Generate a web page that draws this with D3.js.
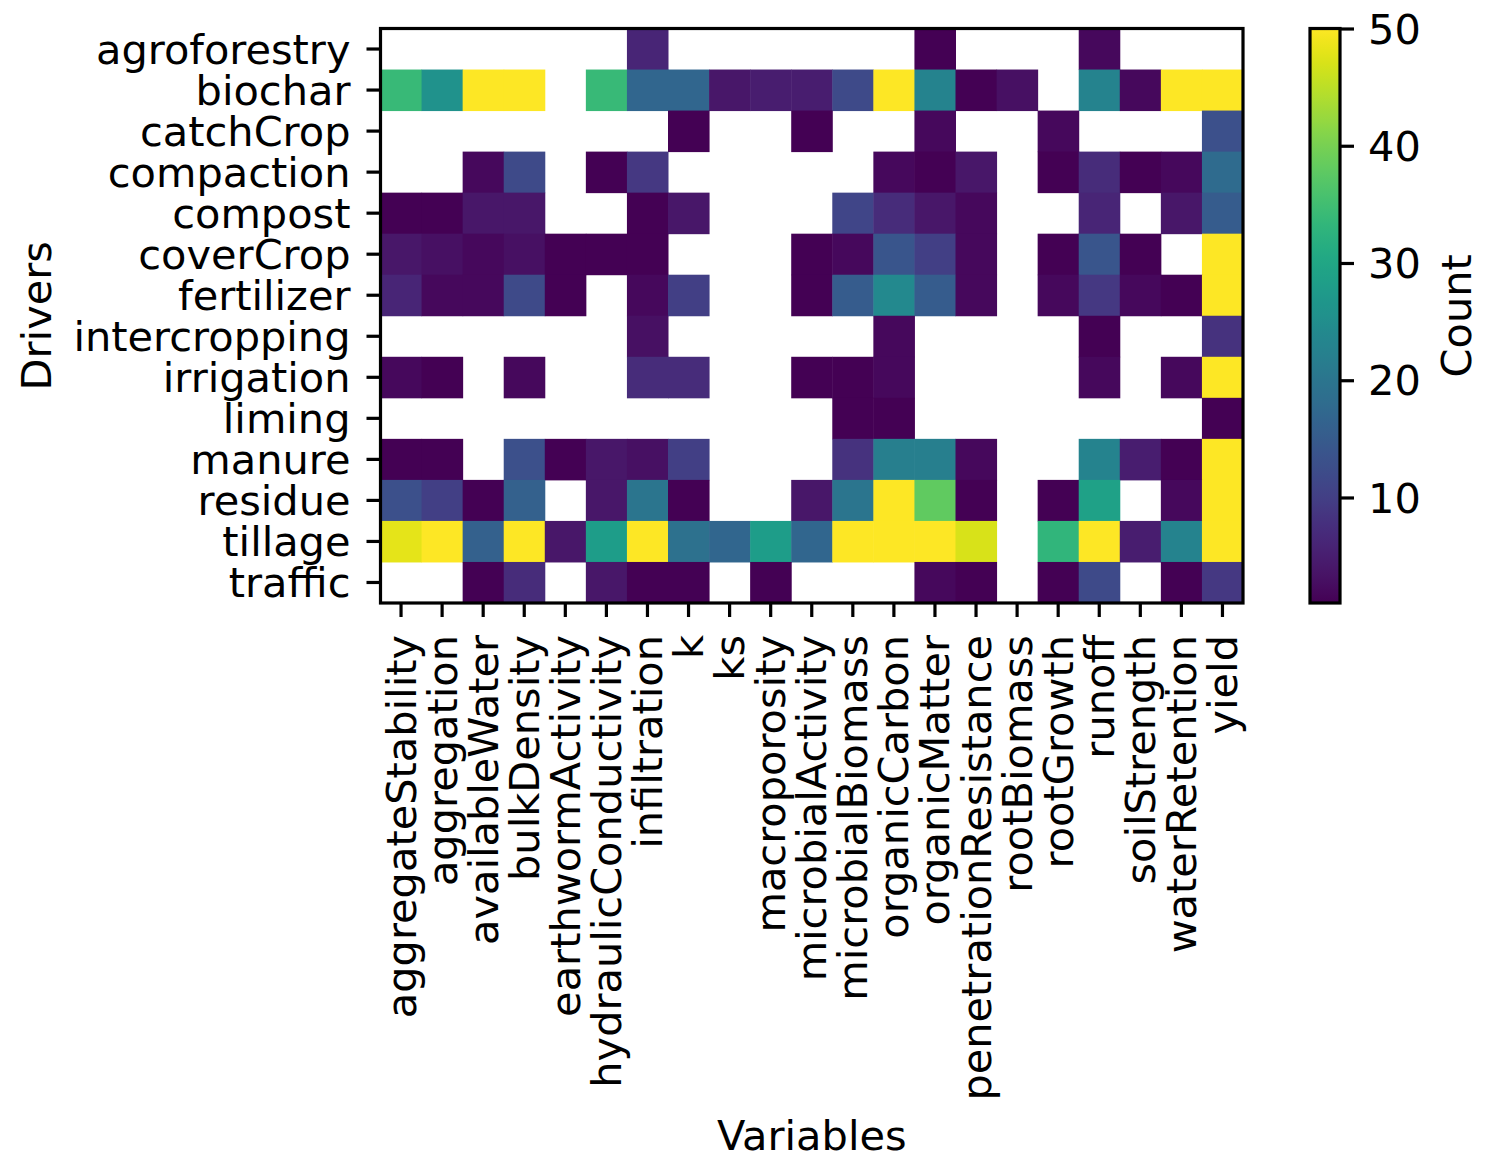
<!DOCTYPE html>
<html>
<head>
<meta charset="utf-8">
<script src="https://cdn.jsdelivr.net/npm/d3@7"></script>
<style>
  html, body { margin: 0; padding: 0; background: #fff; }
  svg { display: block; }
  text { font-family: "DejaVu Sans", sans-serif; fill: #000; }
</style>
</head>
<body>
<svg id="chart" width="1491" height="1162"></svg>
<script>
const drivers = ["agroforestry","biochar","catchCrop","compaction","compost","coverCrop","fertilizer","intercropping","irrigation","liming","manure","residue","tillage","traffic"];
const variables = ["aggregateStability","aggregation","availableWater","bulkDensity","earthwormActivity","hydraulicConductivity","infiltration","k","ks","macroporosity","microbialActivity","microbialBiomass","organicCarbon","organicMatter","penetrationResistance","rootBiomass","rootGrowth","runoff","soilStrength","waterRetention","yield"];
const N = null;
// counts per driver (row), in the order of `variables`; null = no data
const agroforestry  = [N,N,N,N,N,N,6,N,N,N,N,N,N,1,N,N,N,2,N,N,N];
const biochar       = [34,26,50,50,N,34,17,17,4,5,5,12,50,23,1,3,N,23,2,50,50];
const catchCrop     = [N,N,N,N,N,N,N,1,N,N,1,N,N,2,N,N,2,N,N,N,13];
const compaction    = [N,N,2,12,N,1,9,N,N,N,N,N,2,1,4,N,1,7,1,2,18];
const compost       = [1,1,4,4,N,N,1,4,N,N,N,11,7,4,2,N,N,6,N,4,15];
const coverCrop     = [4,3,2,3,1,1,1,N,N,N,1,2,14,10,2,N,1,14,1,N,50];
const fertilizer    = [6,2,2,12,1,N,2,10,N,N,1,15,24,15,2,N,2,9,2,1,50];
const intercropping = [N,N,N,N,N,N,3,N,N,N,N,N,2,N,N,N,N,1,N,N,8];
const irrigation    = [2,1,N,2,N,N,7,7,N,N,1,1,2,N,N,N,N,2,N,2,50];
const liming        = [N,N,N,N,N,N,N,N,N,N,N,1,1,N,N,N,N,N,N,N,1];
const manure        = [1,1,N,13,1,4,3,10,N,N,N,8,22,22,2,N,N,23,5,1,50];
const residue       = [13,10,1,16,N,4,20,1,N,N,4,20,50,38,1,N,1,29,N,2,50];
const tillage       = [48,50,16,50,4,28,50,19,17,28,17,50,50,50,47,N,33,50,5,23,50];
const traffic       = [N,N,1,7,N,4,1,1,N,1,N,N,N,2,1,N,1,12,N,1,9];
const counts = [agroforestry,biochar,catchCrop,compaction,compost,coverCrop,fertilizer,intercropping,irrigation,liming,manure,residue,tillage,traffic];
const colorTicks = [10,20,30,40,50];
const vMin = 1, vMax = 50;

const svg = d3.select("#chart");
svg.append("rect").attr("width",1491).attr("height",1162).attr("fill","#fff");

const L = 380.5, R = 1243, T = 28.5, B = 603;
const FS = 41.5;
const x = d3.scaleBand().domain(variables).range([L, R]).padding(0);
const y = d3.scaleBand().domain(drivers).range([T, B]).padding(0);
const color = d3.scaleSequential(d3.interpolateViridis).domain([vMin, vMax]).clamp(true);

const cells = [];
counts.forEach((row, i) => row.forEach((v, j) => { if (v !== null) cells.push({d: drivers[i], v: variables[j], c: v}); }));

svg.append("g").selectAll("rect").data(cells).join("rect")
  .attr("x", d => x(d.v)).attr("y", d => y(d.d))
  .attr("width", x.bandwidth() + 0.5).attr("height", y.bandwidth() + 0.5)
  .attr("fill", d => color(d.c));

// frame
svg.append("rect").attr("x", L).attr("y", T).attr("width", R - L).attr("height", B - T)
  .attr("fill", "none").attr("stroke", "#000").attr("stroke-width", 3.2);

// x axis
const xAxis = svg.append("g").attr("transform", `translate(0,${B})`)
  .call(d3.axisBottom(x).tickSize(14).tickSizeOuter(0).tickPadding(0));
xAxis.select(".domain").remove();
xAxis.selectAll(".tick line").attr("stroke", "#000").attr("stroke-width", 3.2);
xAxis.selectAll(".tick text")
  .attr("font-size", FS).attr("font-family", "DejaVu Sans")
  .attr("text-anchor", "end").attr("dominant-baseline", "central")
  .attr("dy", null).attr("y", null)
  .attr("transform", "translate(0,32) rotate(-90)");

// y axis
const yAxis = svg.append("g").attr("transform", `translate(${L},0)`)
  .call(d3.axisLeft(y).tickSize(14).tickSizeOuter(0).tickPadding(16));
yAxis.select(".domain").remove();
yAxis.selectAll(".tick line").attr("stroke", "#000").attr("stroke-width", 3.2);
yAxis.selectAll(".tick text").attr("font-size", FS).attr("font-family", "DejaVu Sans")
  .attr("dy", "0.35em");

// axis labels
svg.append("text").attr("x", (L + R) / 2).attr("y", 1150).attr("text-anchor", "middle")
  .attr("font-size", FS).text("Variables");
svg.append("text").attr("transform", `translate(51,${(T + B) / 2}) rotate(-90)`)
  .attr("text-anchor", "middle").attr("font-size", FS).text("Drivers");

// colorbar
const cbL = 1310, cbR = 1340;
const cy = d3.scaleLinear().domain([vMin, vMax]).range([B, T]);
const defs = svg.append("defs");
const grad = defs.append("linearGradient").attr("id", "vir").attr("x1", 0).attr("y1", 1).attr("x2", 0).attr("y2", 0);
d3.range(0, 1.0001, 0.02).forEach(t => grad.append("stop").attr("offset", t).attr("stop-color", d3.interpolateViridis(t)));
svg.append("rect").attr("x", cbL).attr("y", T).attr("width", cbR - cbL).attr("height", B - T).attr("fill", "url(#vir)");
svg.append("rect").attr("x", cbL).attr("y", T).attr("width", cbR - cbL).attr("height", B - T)
  .attr("fill", "none").attr("stroke", "#000").attr("stroke-width", 3.2);
const cAxis = svg.append("g").attr("transform", `translate(${cbR},0)`)
  .call(d3.axisRight(cy).tickValues(colorTicks).tickSize(14).tickPadding(14).tickFormat(d3.format("d")));
cAxis.select(".domain").remove();
cAxis.selectAll(".tick line").attr("stroke", "#000").attr("stroke-width", 3.2);
cAxis.selectAll(".tick text").attr("font-size", FS).attr("font-family", "DejaVu Sans").attr("dy", "0.35em");
svg.append("text").attr("transform", `translate(1471,${(T + B) / 2}) rotate(-90)`)
  .attr("text-anchor", "middle").attr("font-size", FS).text("Count");
</script>
</body>
</html>
